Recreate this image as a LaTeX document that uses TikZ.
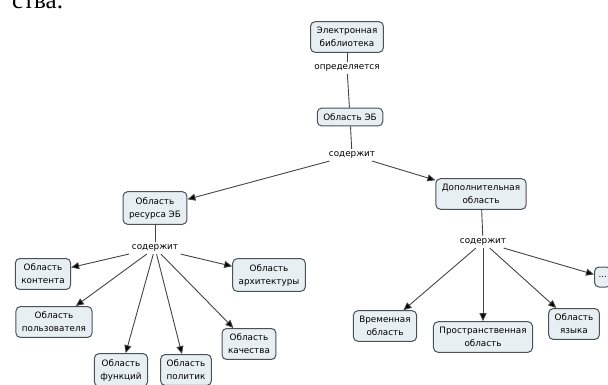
\documentclass[tikz,border=0pt]{standalone}
\usepackage{fontspec}
\setmainfont{DejaVu Sans}
\newfontfamily\docfont{Liberation Serif}
\usetikzlibrary{arrows.meta}
\definecolor{boxfill}{HTML}{E8EFF2}
\definecolor{boxline}{HTML}{4A5257}
\definecolor{linkgray}{HTML}{444444}

\begin{document}
\begin{tikzpicture}[x=1pt, y=-1pt,
  box/.style={draw=boxline, fill=boxfill, rounded corners=4.5pt, line width=1pt,
    align=center, font=\fontsize{8.8}{13}\selectfont, inner xsep=6pt, inner ysep=5.5pt},
  lbl/.style={font=\fontsize{8.8}{11}\selectfont, inner sep=2.5pt},
  link/.style={draw=linkgray, line width=0.9pt},
  arr/.style={link, -{Triangle[length=8pt, width=7pt, fill=black]}}]
  \useasboundingbox (0,0) rectangle (608,385);
  \node[font=\docfont\fontsize{25}{30}\selectfont, anchor=base west, inner sep=0pt] (prev) at (12,9) {ства.};

  % top of the map
  \node[box] (lib) at (347,37) {Электронная\\библиотека};
  \node[lbl] (defl) at (347,68) {определяется};
  \node[box] (area) at (350,117) {Область ЭБ};
  \node[lbl] (cont) at (352,155) {содержит};
  \draw[link] (lib) -- (defl);
  \draw[link] (defl) -- (area);
  \draw[link] (area) -- (cont);

  % resource branch
  \node[box] (res) at (155,208) {Область\\ресурса ЭБ};
  \node[lbl] (resc) at (155,248) {содержит};
  \node[box] (content) at (43,274) {Область\\контента};
  \node[box] (user) at (54,322) {Область\\пользователя};
  \node[box] (func) at (121,370) {Область\\функций};
  \node[box] (policy) at (186,370) {Область\\политик};
  \node[box] (quality) at (249,344) {Область\\качества};
  \node[box] (arch) at (269,275) {Область\\архитектуры};
  \draw[arr] (cont) -- (res);
  \draw[link] (res) -- (resc);
  \foreach \t in {content,user,func,policy,quality,arch}
    \draw[arr] (resc) -- (\t);

  % additional branch
  \node[box] (add) at (481,194) {Дополнительная\\область};
  \node[lbl] (addc) at (483,242) {содержит};
  \node[box] (time) at (385,326) {Временная\\область};
  \node[box] (space) at (483,337) {Пространственная\\область};
  \node[box] (lang) at (574,324) {Область\\языка};
  \node[box, anchor=west, inner xsep=4pt, minimum height=20pt] (more) at (594,277) {...};
  \draw[arr] (cont) -- (add);
  \draw[link] (add) -- (addc);
  \foreach \t in {time,space,lang,more}
    \draw[arr] (addc) -- (\t);
\end{tikzpicture}
\end{document}
